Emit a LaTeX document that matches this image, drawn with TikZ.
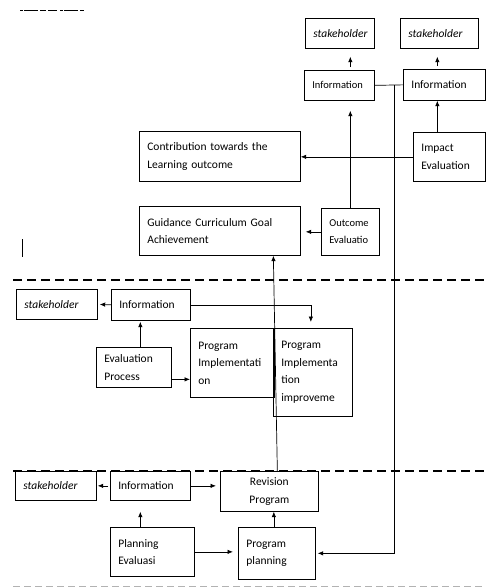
\documentclass[tikz,border=0pt]{standalone}
\usepackage{fontspec}
\setmainfont{Carlito}
\usetikzlibrary{arrows.meta,calc}

\begin{document}
\begin{tikzpicture}[x=1pt, y=-1pt, line width=0.7pt,
  box/.style={draw, rectangle, anchor=north west, align=left, inner xsep=8pt, inner ysep=0pt, font=\fontsize{11.5}{17.5}\selectfont},
  small/.style={font=\fontsize{10.5}{16.5}\selectfont},
  stake/.style={box, font=\fontsize{11.5}{14}\selectfont\itshape},
  arr/.style={-{Latex[length=5.5pt,width=4.5pt]}},
  sep/.style={dash pattern=on 9pt off 5pt, line width=1.6pt}]

\useasboundingbox (0,0) rectangle (486,587);

% Top level: outcome and impact
\node[stake, text width=53pt, minimum height=30pt] (stk1) at (305,18) {stakeholder};
\node[stake, text width=62pt, minimum height=30pt] (stk2) at (400,18) {stakeholder};
\node[box, small, text width=54pt, minimum height=30pt] (info1) at (304,70) {Information};
\node[box, text width=66pt, minimum height=31pt] (info2) at (403,69) {Information};
\node[box, text width=56pt, minimum height=49pt] (impact) at (413,132) {Impact\\Evaluation};
\node[box, text width=145pt, minimum height=50pt] (contrib) at (139,131) {Contribution towards the\\Learning outcome};
\node[box, text width=145pt, minimum height=49pt] (guide) at (139,206) {Guidance Curriculum Goal\\Achievement};
\node[box, small, text width=42pt, minimum height=47pt] (outcome) at (321,208) {Outcome\\Evaluatio};

% Middle level: implementation
\node[stake, text width=65pt, minimum height=30pt] (stk3) at (16,289) {stakeholder};
\node[box, text width=63pt, minimum height=31pt] (info3) at (111,289) {Information};
\node[box, text width=59pt, minimum height=40pt] (evalp) at (96,347) {Evaluation\\Process};
\node[box, text width=68pt, minimum height=69pt] (impl) at (190,328) {Program\\Implementati\\on};
\node[box, text width=63pt, minimum height=88pt] (improve) at (273,328) {Program\\Implementa\\tion\\improveme};

% Bottom level: planning
\node[stake, text width=65pt, minimum height=29pt] (stk4) at (15,471) {stakeholder};
\node[box, text width=64pt, minimum height=29pt] (info4) at (110,471) {Information};
\node[box, align=center, text width=82pt, minimum height=40pt] (revision) at (220,471) {Revision\\Program};
\node[box, text width=68pt, minimum height=49pt] (planev) at (110,527) {Planning\\Evaluasi};
\node[box, text width=61pt, minimum height=52pt] (progplan) at (238,527) {Program\\planning};

% Top connectors
\draw[arr, shorten <=3pt, shorten >=8pt] (info1.north -| outcome.north) -- (stk1.south -| outcome.north);
\draw[arr, shorten <=3pt, shorten >=8pt] ([xshift=-7pt]info2.north) -- ([xshift=-7pt]info2.north |- stk2.south);
\draw[arr] ([xshift=-12pt]impact.north) -- ([xshift=-12pt]impact.north |- info2.south);
\draw[arr] (impact.west) -- (impact.west -| contrib.east);
\draw[arr, shorten >=10pt] (outcome.north) -- (outcome.north |- info1.south);
\draw[arr, shorten >=5pt] (outcome.west) -- (outcome.west -| guide.east);
\draw (info1.east) -- (info2.west);
\draw[arr, shorten >=2pt] ($(info1.east)!0.69!(info2.west)$) |- (progplan.east);
\draw[arr] ([xshift=8pt]revision.north) -- ([xshift=53.5pt]guide.south);

% Middle connectors
\draw[arr, shorten >=2pt] (info3.west) -- (stk3.east);
\draw[arr, shorten >=1pt] ([xshift=6.5pt]evalp.north) -- ([xshift=6.5pt]evalp.north |- info3.south);
\draw[arr] ([yshift=-12pt]evalp.east) -- ([yshift=-12pt]evalp.east -| impl.west);
\draw[arr, shorten >=6pt] (info3.east) -| ([xshift=-2pt]improve.north);

% Bottom connectors
\draw[arr, shorten <=2pt, shorten >=1pt] (info4.west) -- (stk4.east);
\draw[arr, shorten >=4pt] (info4.east) -- (info4.east -| revision.west);
\draw[arr, shorten >=11pt] ([xshift=-12pt]planev.north) -- ([xshift=-12pt]planev.north |- info4.south);
\draw[arr, shorten >=5pt] (planev.east) -- (planev.east -| progplan.west);
\draw[arr] ([xshift=-3pt]progplan.north) -- ([xshift=-3pt]progplan.north |- revision.south);

% Separators and stray marks
\draw[sep] (13,280) -- (486,280);
\draw[sep] (13,471) -- (486,471);
\draw[dash pattern=on 7pt off 4pt, gray!60] (13,586) -- (486,586);
\draw (22,239) -- (22,257);
\draw[line width=1.3pt, dash pattern=on 3pt off 1pt on 14pt off 2pt on 6pt off 2pt on 9pt off 3pt] (20,10.5) -- (84,10.5);
\end{tikzpicture}
\end{document}
